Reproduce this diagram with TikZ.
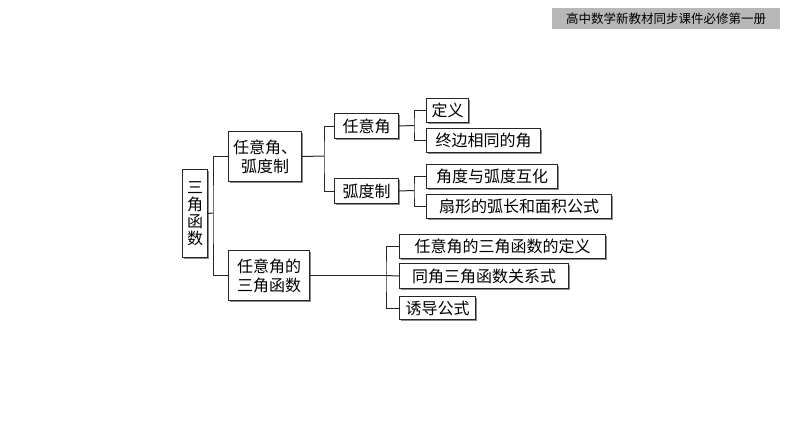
\documentclass[tikz,border=0pt]{standalone}
\usepackage{fontspec}
\usetikzlibrary{shadows}
\newfontfamily\cjk{Noto Sans CJK SC}
\begin{document}
\begin{tikzpicture}[x=1pt,y=-1pt,
  bx/.style={draw=black!85,line width=1pt,fill=white,inner sep=0pt,font=\cjk\fontsize{16}{19}\selectfont,
    drop shadow={shadow xshift=1.5pt,shadow yshift=-1.5pt,fill=black!45,opacity=1}},
  ln/.style={line width=1pt,black!85}]
\useasboundingbox[fill=white] (0,0) rectangle (794,447);
\fill[black!28] (552,8) rectangle (780,29);
\node[font=\cjk\fontsize{12.5}{14}\selectfont] (hdr) at (666,18.5) {高中数学新教材同步课件必修第一册};
\newcommand\bxn[6]{\node[bx,minimum width=#4-#2,minimum height=#5-#3,anchor=north west,align=center] (#1) at (#2,#3) {#6};}
\bxn{root}{182}{169}{207}{257}{三\\[-2pt]角\\[-2pt]函\\[-2pt]数}
\bxn{a}{228}{131}{301}{181}{任意角、\\弧度制}
\bxn{b}{228}{250}{309}{300}{任意角的\\三角函数}
\bxn{a1}{334}{113}{398}{138}{任意角}
\bxn{a2}{334}{178}{398}{203}{弧度制}
\bxn{a11}{426}{98}{468}{122}{定义}
\bxn{a12}{426}{128}{540}{152}{终边相同的角}
\bxn{a21}{426}{164}{557}{188}{角度与弧度互化}
\bxn{a22}{426}{194}{611}{218}{扇形的弧长和面积公式}
\bxn{b1}{399}{234}{605}{258}{任意角的三角函数的定义}
\bxn{b2}{399}{263}{568}{288}{同角三角函数关系式}
\bxn{b3}{399}{296}{475}{319}{诱导公式}
\draw[ln] (root.east) -- (213,213) coordinate (j0);
\draw[ln] (a.west) -| (j0) |- (b.west);
\draw[ln] (a.east) -- (324,156) coordinate (j1);
\draw[ln] (a1.west) -| (j1) |- (a2.west);
\draw[ln] (a1.east) -- (414,125.5) coordinate (j2);
\draw[ln] (a11.west) -| (j2) |- (a12.west);
\draw[ln] (a2.east) -- (414,190.5) coordinate (j3);
\draw[ln] (a21.west) -| (j3) |- (a22.west);
\draw[ln] (b.east) -- (386,275.5) coordinate (j4);
\draw[ln] (b1.west) -| (j4) |- (b3.west);
\draw[ln] (j4) -- (b2.west);
\end{tikzpicture}
\end{document}
